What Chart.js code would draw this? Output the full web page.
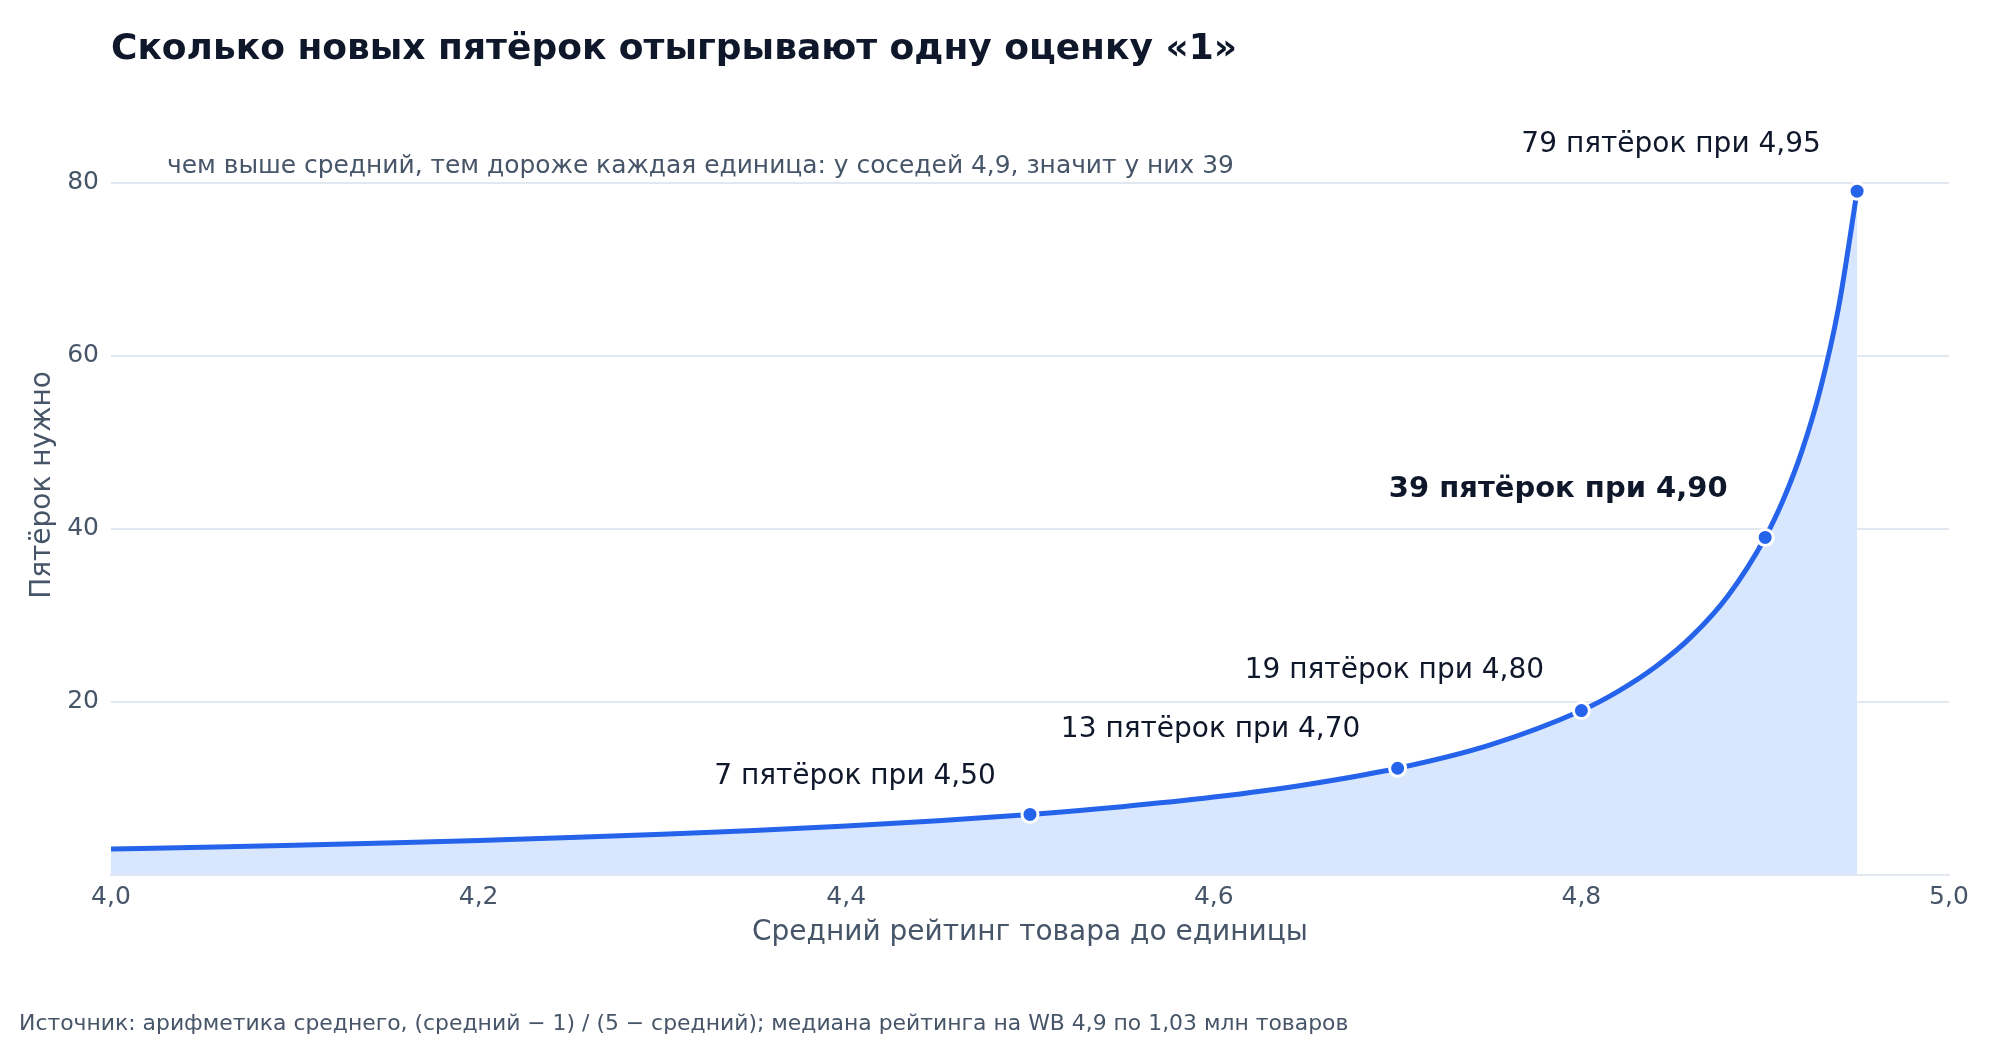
<!DOCTYPE html>
<html lang="ru">
<head>
<meta charset="utf-8">
<title>Сколько новых пятёрок отыгрывают одну оценку «1»</title>
<script src="https://cdn.jsdelivr.net/npm/chart.js@4.4.1/dist/chart.umd.min.js"></script>
<style>
  html, body { margin: 0; padding: 0; background: #ffffff; }
  canvas { display: block; }
</style>
</head>
<body>
<canvas id="fivesChart" width="2000" height="1040"></canvas>
<script>
// Средний рейтинг до единицы и сколько пятёрок нужно, чтобы вернуть его
const ratingX = [4.0, 4.05, 4.1, 4.15, 4.2, 4.25, 4.3, 4.35, 4.4, 4.45, 4.5, 4.55, 4.6, 4.65, 4.7,
                 4.75, 4.8, 4.82, 4.84, 4.86, 4.88, 4.9, 4.91, 4.92, 4.93, 4.94, 4.95];
const fivesNeeded = [3, 3.21, 3.44, 3.71, 4, 4.33, 4.71, 5.15, 5.67, 6.27, 7, 7.89, 9, 10.43, 12.33,
                     15, 19, 21.22, 24, 27.57, 32.33, 39, 43.44, 49, 56.14, 65.67, 79];

// отмеченные точки и подписи к ним
const markerX = [4.5, 4.7, 4.8, 4.9, 4.95];
const markerY = [7, 12.33, 19, 39, 79];
const markerLabels = ['7 пятёрок при 4,50', '13 пятёрок при 4,70', '19 пятёрок при 4,80',
                      '39 пятёрок при 4,90', '79 пятёрок при 4,95'];

const xTicks = [4.0, 4.2, 4.4, 4.6, 4.8, 5.0];
const yTicks = [20, 40, 60, 80];

// смещения подписей от точек (в пикселях) и какая подпись жирная
const labelShift = [[-175, -38], [-187, -39], [-187, -40], [-207, -48], [-186, -46]];
const boldLabel = 3;

const FONT = "'DejaVu Sans', 'Noto Sans', sans-serif";
const BLUE = '#2563eb';
const DARK = '#0f172a';
const SLATE = '#475569';
const GRID = '#e2e8f0';

const textPlugin = {
    id: 'texts',
    afterDatasetsDraw(chart) {
        const ctx = chart.ctx;
        const xs = chart.scales.x;
        const ys = chart.scales.y;
        ctx.save();
        ctx.textBaseline = 'middle';

        // подписи у точек
        ctx.textAlign = 'center';
        markerLabels.forEach((txt, i) => {
            const px = xs.getPixelForValue(markerX[i]) + labelShift[i][0];
            const py = ys.getPixelForValue(markerY[i]) + labelShift[i][1];
            ctx.font = i === boldLabel ? 'bold 29px ' + FONT : '28px ' + FONT;
            ctx.fillStyle = DARK;
            ctx.fillText(txt, px, py);
        });

        // заголовок
        ctx.textAlign = 'left';
        ctx.font = 'bold 36px ' + FONT;
        ctx.fillStyle = DARK;
        ctx.fillText('Сколько новых пятёрок отыгрывают одну оценку «1»', 111, 50);

        // подзаголовок
        ctx.font = '24.9px ' + FONT;
        ctx.fillStyle = SLATE;
        ctx.fillText('чем выше средний, тем дороже каждая единица: у соседей 4,9, значит у них 39', 167, 167);

        // источник
        ctx.font = '21.9px ' + FONT;
        ctx.fillText('Источник: арифметика среднего, (средний − 1) / (5 − средний); медиана рейтинга на WB 4,9 по 1,03 млн товаров', 19, 1024);

        // подписи осей
        ctx.textAlign = 'center';
        ctx.font = '28px ' + FONT;
        ctx.fillText('Средний рейтинг товара до единицы', (chart.chartArea.left + chart.chartArea.right) / 2, 933);
        ctx.translate(43, 485);
        ctx.rotate(-Math.PI / 2);
        ctx.fillText('Пятёрок нужно', 0, 0);
        ctx.restore();
    }
};

const ctx = document.getElementById('fivesChart').getContext('2d');
const fivesChart = new Chart(ctx, {
    type: 'line',
    data: {
        datasets: [
            {
                label: 'Точки',
                data: markerX.map((x, i) => ({ x: x, y: markerY[i] })),
                showLine: false,
                pointRadius: 8,
                pointBackgroundColor: BLUE,
                pointBorderColor: '#ffffff',
                pointBorderWidth: 3,
                order: 0
            },
            {
                label: 'Пятёрок нужно',
                data: ratingX.map((x, i) => ({ x: x, y: fivesNeeded[i] })),
                borderColor: BLUE,
                borderWidth: 5,
                backgroundColor: '#d8e7fd',
                fill: 'origin',
                cubicInterpolationMode: 'monotone',
                pointRadius: 0,
                order: 1
            }
        ]
    },
    options: {
        responsive: false,
        devicePixelRatio: 1,
        animation: false,
        layout: { padding: { top: 96, right: 51, bottom: 0, left: 0 } },
        plugins: {
            legend: { display: false },
            tooltip: { enabled: false }
        },
        scales: {
            x: {
                type: 'linear',
                min: 4,
                max: 5,
                afterBuildTicks: (scale) => { scale.ticks = xTicks.map(v => ({ value: v })); },
                afterFit: (scale) => { scale.height = 165; },
                grid: { display: false, drawTicks: false },
                border: { display: true, color: GRID, width: 2 },
                ticks: {
                    padding: 7,
                    color: SLATE,
                    font: { family: FONT, size: 25 },
                    callback: (v) => v.toFixed(1).replace('.', ',')
                }
            },
            y: {
                min: 0,
                max: 90,
                afterBuildTicks: (scale) => { scale.ticks = yTicks.map(v => ({ value: v })); },
                afterFit: (scale) => { scale.width = 111; },
                grid: { color: GRID, lineWidth: 2, drawTicks: false },
                border: { display: false },
                ticks: {
                    padding: 12,
                    color: SLATE,
                    font: { family: FONT, size: 25 }
                }
            }
        }
    },
    plugins: [textPlugin]
});
</script>
</body>
</html>
